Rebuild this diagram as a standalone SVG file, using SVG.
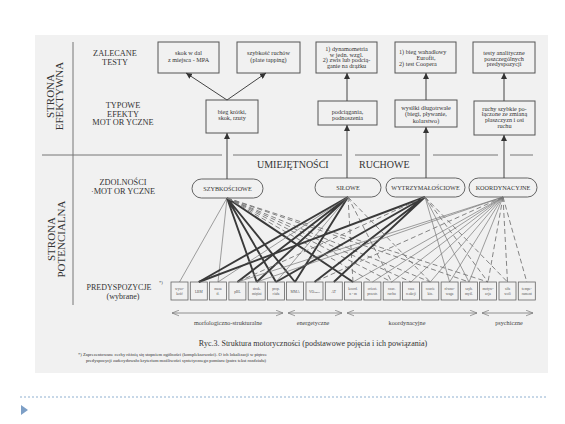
<svg xmlns="http://www.w3.org/2000/svg" width="565" height="424" viewBox="0 0 565 424">
<defs>
<style>
text{font-family:"Liberation Serif","DejaVu Serif",serif;fill:#333}
.box{fill:none;stroke:#555;stroke-width:1}
.pb{fill:none;stroke:#666;stroke-width:0.8}
.ov{fill:none;stroke:#555;stroke-width:0.9}
.lab{font-size:8.3px;text-anchor:middle}
.side{font-size:11px;text-anchor:middle}
.bt{font-size:6.2px;text-anchor:middle}
.ot{font-size:6.2px;text-anchor:middle}
.pt{font-size:3.6px;text-anchor:middle;fill:#555}
.gl{font-size:6.2px;text-anchor:middle;fill:#444}
.sep{stroke:#777;stroke-width:1;fill:none}
.arr{stroke:#444;stroke-width:1;fill:none;marker-end:url(#ah)}
.thk{stroke:#3a3a3a;stroke-width:1.9;fill:none}
.thn{stroke:#777;stroke-width:0.7;fill:none}
.dsh{stroke:#777;stroke-width:0.9;fill:none;stroke-dasharray:5 3}
.dbl{stroke:#777;stroke-width:0.8;fill:none;marker-start:url(#oa);marker-end:url(#oa)}
</style>
<marker id="ah" viewBox="0 0 10 10" refX="10" refY="5" markerWidth="6" markerHeight="6" orient="auto"><path d="M0,0 L10,5 L0,10 z" fill="#333"/></marker>
<marker id="oa" viewBox="0 0 10 10" refX="10" refY="5" markerWidth="7" markerHeight="7" orient="auto-start-reverse" markerUnits="userSpaceOnUse"><path d="M0,1 L10,5 L0,9" fill="none" stroke="#777" stroke-width="1"/></marker>
</defs>
<rect width="565" height="424" fill="#fff"/>
<rect x="35" y="35" width="513" height="338" fill="#f1f1f1"/>

<g id="separators">
<line class="sep" x1="73" y1="42" x2="73" y2="305"/>
<path class="sep" d="M42,155 H222 M233,155 H342 M355,155 H420 M433,155 H498 M510,155 H533"/>
</g>

<g id="side-labels">
<text class="side" transform="translate(54,96) rotate(-90)">STRONA</text>
<text class="side" transform="translate(63,96) rotate(-90)">EFEKTYWNA</text>
<text class="side" transform="translate(55,239) rotate(-90)">STRONA</text>
<text class="side" transform="translate(65,239) rotate(-90)">POTENCIALNA</text>
</g>
<g id="row-labels">
<text class="lab" x="115" y="56">ZALECANE</text>
<text class="lab" x="115" y="65">TESTY</text>
<text class="lab" x="123" y="108">TYPOWE</text>
<text class="lab" x="123" y="116.5">EFEKTY</text>
<text class="lab" x="123" y="125">MOT OR YCZNE</text>
<text class="lab" x="123" y="185">ZDOLNOŚCI</text>
<text class="lab" x="123" y="194">·MOT OR YCZNE</text>
<text class="lab" x="119" y="290" style="font-size:8px">PREDYSPOZYCJE</text>
<text class="lab" x="123" y="299" style="font-size:8px">(wybrane)</text>
<text x="159" y="284" style="font-size:4.5px">*)</text>
<text x="257" y="168" style="font-size:10px">UMIEJĘTNOŚCI</text>
<text x="359" y="168" style="font-size:10px">RUCHOWE</text>
</g>

<g id="test-skok"><rect class="box" x="158" y="42" width="61" height="31"/>
<text class="bt" x="188.5" y="55">skok w dal</text><text class="bt" x="188.5" y="61.5">z miejsca - MPA</text></g>
<g id="test-tapping"><rect class="box" x="237" y="42" width="63" height="31"/>
<text class="bt" x="268.5" y="55">szybkość ruchów</text><text class="bt" x="268.5" y="61.5">(plate tapping)</text></g>
<g id="test-dyn"><rect class="box" x="316" y="42" width="61" height="31"/>
<text class="bt" x="346.5" y="51">1) dynamometria</text><text class="bt" x="346.5" y="56.5">w jedn. wzgl.</text><text class="bt" x="346.5" y="62">2) zwis lub podcią-</text><text class="bt" x="346.5" y="67.5">ganie na drążku</text></g>
<g id="test-bieg"><rect class="box" x="395" y="42" width="61" height="31"/>
<text class="bt" x="399" y="53.5" style="text-anchor:start">1) bieg wahadłowy</text><text class="bt" x="426" y="59.8">Eurofit,</text><text class="bt" x="399" y="66" style="text-anchor:start">2) test Coopera</text></g>
<g id="test-analit"><rect class="box" x="473" y="42" width="62" height="31"/>
<text class="bt" x="504" y="55">testy analityczne</text><text class="bt" x="504" y="60.5">poszczególnych</text><text class="bt" x="504" y="66">predyspozycji</text></g>

<g id="eff-szyb"><rect class="box" x="206" y="100" width="52" height="33"/>
<text class="bt" x="232" y="113.5">bieg krótki,</text><text class="bt" x="232" y="120">skok, rzuty</text></g>
<g id="eff-sil"><rect class="box" x="318" y="101" width="59" height="24"/>
<text class="bt" x="347.5" y="113.5">podciągania,</text><text class="bt" x="347.5" y="120">podnoszenia</text></g>
<g id="eff-wytrz"><rect class="box" x="395" y="100" width="62" height="27"/>
<text class="bt" x="426" y="110">wysiłki długotrwałe</text><text class="bt" x="426" y="116">(biegi, pływanie,</text><text class="bt" x="426" y="122.5">kolarstwo)</text></g>
<g id="eff-koord"><rect class="box" x="474" y="101" width="61" height="34"/>
<text class="bt" x="504.5" y="110.5">ruchy szybkie po-</text><text class="bt" x="504.5" y="116">łączone ze zmianą</text><text class="bt" x="504.5" y="122.3">płaszczyzn i osi</text><text class="bt" x="504.5" y="128.3">ruchu</text></g>

<g id="ab-szyb"><rect class="ov" x="192" y="179" width="71" height="19" rx="9.5"/><text class="ot" x="227.5" y="191">SZYBKOŚCIOWE</text></g>
<g id="ab-sil"><rect class="ov" x="315" y="178" width="66" height="19" rx="9.5"/><text class="ot" x="348" y="190">SIŁOWE</text></g>
<g id="ab-wytrz"><rect class="ov" x="386" y="178" width="79" height="19" rx="9.5"/><text class="ot" x="425.5" y="190">WYTRZYMAŁOŚCIOWE</text></g>
<g id="ab-koord"><rect class="ov" x="469" y="178" width="68" height="19" rx="9.5"/><text class="ot" x="503" y="190">KOORDYNACYJNE</text></g>

<g id="connectors">
<line class="arr" x1="227" y1="179" x2="227" y2="133"/>
<line class="arr" x1="347" y1="178" x2="347" y2="125"/>
<line class="arr" x1="426" y1="178" x2="426" y2="127"/>
<line class="arr" x1="504" y1="178" x2="504" y2="135"/>
<line class="arr" x1="227" y1="100" x2="186" y2="73"/>
<line class="arr" x1="227" y1="100" x2="266" y2="73"/>
<line class="arr" x1="347" y1="101" x2="347" y2="73"/>
<line class="arr" x1="426" y1="100" x2="426" y2="73"/>
<line class="arr" x1="504" y1="101" x2="504" y2="73"/>

<path class="thn" d="M227,198 L179.5,282 M227,198 L218,282"/>
<path class="thk" d="M227,198 L256.7,282 M227,198 L276,282 M227,198 L295,282 M227,198 L353,282"/>
<path class="dsh" d="M227,198 L372.4,282 M227,198 L391.7,282 M227,198 L411,282 M227,198 L430.3,282 M227,198 L469,282 M227,198 L488,282"/>
<path class="thk" d="M348,197 L198.8,282 M348,197 L237.4,282 M348,197 L256.7,282 M348,197 L295,282"/>
<path class="thn" d="M348,197 L218,282 M348,197 L276,282"/>
<path class="dsh" d="M348,197 L353,282 M348,197 L391.7,282 M348,197 L430.3,282"/>
<path class="thk" d="M425,197 L198.8,282 M425,197 L276,282 M425,197 L314.5,282 M425,197 L333.8,282"/>
<path class="thn" d="M425,197 L449.6,282 M425,197 L469,282"/>
<path class="dsh" d="M425,197 L237.4,282 M425,197 L488,282 M425,197 L507.5,282"/>
<path class="thn" d="M503,197 L237.4,282 M503,197 L256.7,282 M503,197 L353,282 M503,197 L372.4,282 M503,197 L391.7,282 M503,197 L411,282 M503,197 L430.3,282 M503,197 L449.6,282 M503,197 L469,282"/>
<path class="dsh" d="M503,197 L314.5,282 M503,197 L488,282 M503,197 L507.5,282 M503,197 L526.8,282"/>

<line class="dbl" x1="172" y1="313" x2="283" y2="313"/>
<line class="dbl" x1="288" y1="313" x2="342" y2="313"/>
<line class="dbl" x1="347" y1="313" x2="477" y2="313"/>
<line class="dbl" x1="482" y1="313" x2="533" y2="313"/>
</g>

<g id="predispositions">
<g id="p1"><rect class="pb" x="171" y="282" width="17" height="18"/><text class="pt" x="179.5" y="290">wyso-</text><text class="pt" x="179.5" y="294.5">kość</text></g>
<g id="p2"><rect class="pb" x="190.3" y="282" width="17" height="18"/><text class="pt" x="198.8" y="292.5">LBM</text></g>
<g id="p3"><rect class="pb" x="209.5" y="282" width="17" height="18"/><text class="pt" x="218" y="290">masa</text><text class="pt" x="218" y="294.5">tł.</text></g>
<g id="p4"><rect class="pb" x="228.9" y="282" width="17" height="18"/><text class="pt" x="237.4" y="292.5">pBL</text></g>
<g id="p5"><rect class="pb" x="248.2" y="282" width="17" height="18"/><text class="pt" x="256.7" y="290">struk.</text><text class="pt" x="256.7" y="294.5">mięśni</text></g>
<g id="p6"><rect class="pb" x="267.5" y="282" width="17" height="18"/><text class="pt" x="276" y="290">prop.</text><text class="pt" x="276" y="294.5">ciała</text></g>
<g id="p7"><rect class="pb" x="286.5" y="282" width="17" height="18"/><text class="pt" x="295" y="292.5">MMA</text></g>
<g id="p8"><rect class="pb" x="306" y="282" width="17" height="18"/><text class="pt" x="314.5" y="292.5">VO<tspan style="font-size:2.6px" dy="0.8">2max</tspan></text></g>
<g id="p9"><rect class="pb" x="325.3" y="282" width="17" height="18"/><text class="pt" x="333.8" y="292.5">AT</text></g>
<g id="p10"><rect class="pb" x="344.5" y="282" width="17" height="18"/><text class="pt" x="353" y="290">koord.</text><text class="pt" x="353" y="294.5">n - m</text></g>
<g id="p11"><rect class="pb" x="363.9" y="282" width="17" height="18"/><text class="pt" x="372.4" y="290">orient.</text><text class="pt" x="372.4" y="294.5">przestr.</text></g>
<g id="p12"><rect class="pb" x="383.2" y="282" width="17" height="18"/><text class="pt" x="391.7" y="290">czuc.</text><text class="pt" x="391.7" y="294.5">ruchu</text></g>
<g id="p13"><rect class="pb" x="402.5" y="282" width="17" height="18"/><text class="pt" x="411" y="290">czas</text><text class="pt" x="411" y="294.5">reakcji</text></g>
<g id="p14"><rect class="pb" x="421.8" y="282" width="17" height="18"/><text class="pt" x="430.3" y="290">czucie</text><text class="pt" x="430.3" y="294.5">kin.</text></g>
<g id="p15"><rect class="pb" x="441.1" y="282" width="17" height="18"/><text class="pt" x="449.6" y="290">równo-</text><text class="pt" x="449.6" y="294.5">waga</text></g>
<g id="p16"><rect class="pb" x="460.5" y="282" width="17" height="18"/><text class="pt" x="469" y="290">szyb.</text><text class="pt" x="469" y="294.5">myśl.</text></g>
<g id="p17"><rect class="pb" x="479.5" y="282" width="17" height="18"/><text class="pt" x="488" y="290">motyw-</text><text class="pt" x="488" y="294.5">acja</text></g>
<g id="p18"><rect class="pb" x="499" y="282" width="17" height="18"/><text class="pt" x="507.5" y="290">siła</text><text class="pt" x="507.5" y="294.5">woli</text></g>
<g id="p19"><rect class="pb" x="518.3" y="282" width="17" height="18"/><text class="pt" x="526.8" y="290">tempe-</text><text class="pt" x="526.8" y="294.5">rament</text></g>
</g>

<g id="group-labels">
<text class="gl" x="228" y="325">morfologiczno-strukturalne</text>
<text class="gl" x="313" y="325">energetyczne</text>
<text class="gl" x="407" y="325">koordynacyjne</text>
<text class="gl" x="509" y="325">psychiczne</text>
</g>

<g id="caption">
<text x="313" y="346" style="font-size:8px;text-anchor:middle">Ryc.3. Struktura motoryczności (podstawowe pojęcia i ich powiązania)</text>
<text x="78" y="356" style="font-size:4.6px">*) Zaprezentowane cechy różnią się stopniem ogólności (kompleksowości). O ich lokalizacji w piętrze</text>
<text x="86" y="362" style="font-size:4.6px">predyspozycji zadecydowało kryterium możliwości syntetycznego pomiaru (patrz tekst rozdziału)</text>
</g>

<g id="slide-footer">
<line x1="20" y1="397" x2="546" y2="397" stroke="#8fb0d0" stroke-width="1" stroke-dasharray="2 2"/>
<path d="M21,405 L28,410 L21,415 z" fill="#7d9fc6"/>
</g>
</svg>
